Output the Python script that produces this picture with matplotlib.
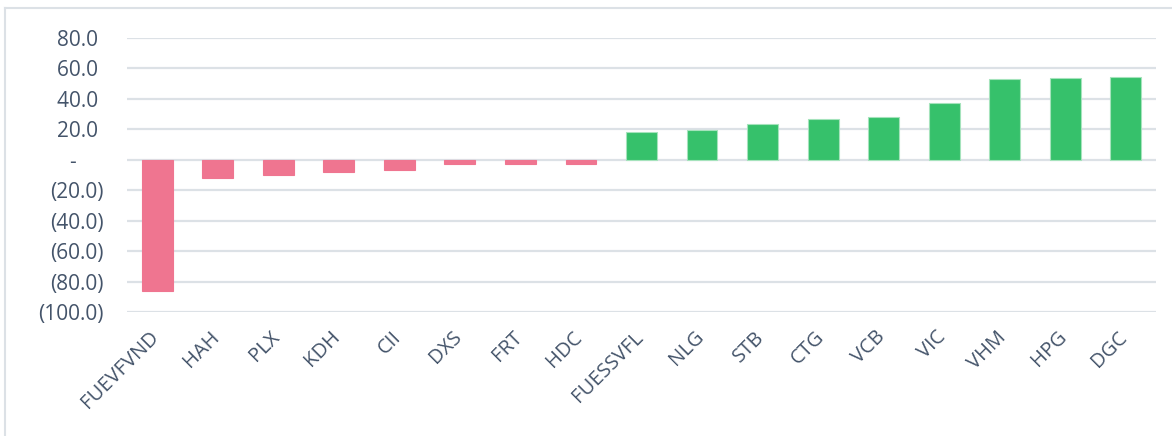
import matplotlib.pyplot as plt
from matplotlib.lines import Line2D
from matplotlib.ticker import FuncFormatter, MultipleLocator
import matplotlib.transforms as mtransforms

# データ
tickers = ["FUEVFVND", "HAH", "PLX", "KDH", "CII", "DXS", "FRT", "HDC",
           "FUESSVFL", "NLG", "STB", "CTG", "VCB", "VIC", "VHM", "HPG", "DGC"]
values = [-86.1, -12.2, -10.3, -8.3, -7.0, -3.0, -3.0, -3.0,
          18.3, 19.6, 23.5, 26.8, 28.3, 37.0, 52.9, 53.6, 54.7]

pink = "#EF7590"
green = "#36C16B"
text_color = "#44546A"
grid_color = "#DCE1E6"

plt.rcParams['font.family'] = ['Open Sans', 'DejaVu Sans']

fig = plt.figure(figsize=(11.72, 4.36), dpi=100)
ax = fig.add_axes([127 / 1172, 1 - 312 / 436, (1156 - 127) / 1172, (312 - 38) / 436])

colors = [green if v > 0 else pink for v in values]
edges = ["#A5E3BC" if v > 0 else pink for v in values]
x = range(len(tickers))
ax.bar(x, values, width=0.51, color=colors, edgecolor=edges, linewidth=0.8, zorder=3)

ax.set_ylim(-100, 80)
ax.set_xlim(-0.5, len(tickers) - 0.5)
ax.yaxis.set_major_locator(MultipleLocator(20))
ax.grid(axis="y", color=grid_color, linewidth=1.6, zorder=0)
ax.set_axisbelow(True)
for s in ax.spines.values():
    s.set_visible(False)


# 会計書式の目盛ラベル
def fmt(v, pos):
    if abs(v) < 1e-9:
        return "-     "
    if v < 0:
        return f"({abs(v):.1f})"
    return f"{v:.1f} "


ax.yaxis.set_major_formatter(FuncFormatter(fmt))
ax.tick_params(axis="y", length=0, pad=17, labelsize=15, labelcolor=text_color)
ax.tick_params(axis="x", length=0, pad=16, labelsize=14.5, labelcolor=text_color)

ax.set_xticks(list(x))
ax.set_xticklabels(tickers, rotation=45, ha="right", va="center", rotation_mode="anchor")
offset = mtransforms.ScaledTranslation(-1 / 72, 0, fig.dpi_scale_trans)
for lab in ax.get_xticklabels():
    lab.set_transform(lab.get_transform() + offset)

# 外枠
fig.add_artist(Line2D([5 / 1172, 1], [1 - 8 / 436, 1 - 8 / 436], color=grid_color, linewidth=1.5))
fig.add_artist(Line2D([5 / 1172, 5 / 1172], [0, 1 - 8 / 436], color=grid_color, linewidth=1.5))

fig.savefig("out.png", dpi=100)
